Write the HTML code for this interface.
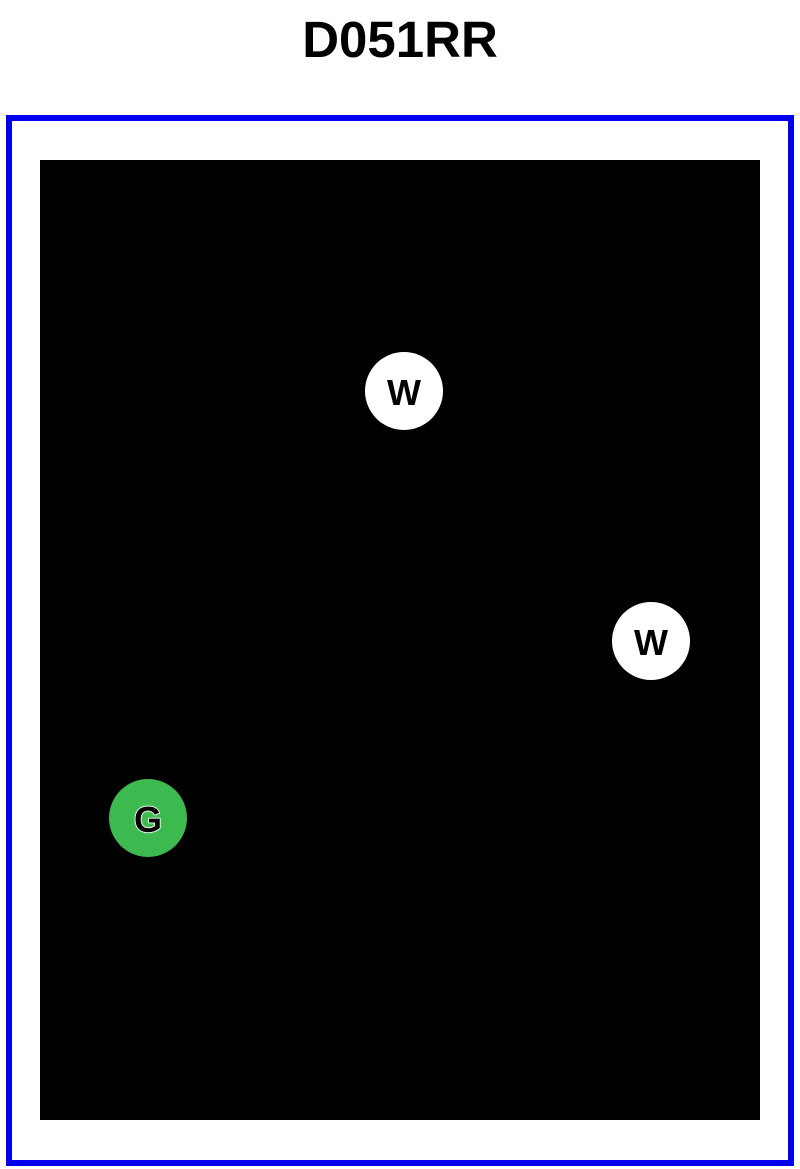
<!DOCTYPE html>
<html><head><style>
body{margin:0;width:800px;height:1169px;background:#fff;position:relative;font-family:"Liberation Sans",sans-serif;overflow:hidden}
.t{position:absolute;top:10px;left:0;width:800px;text-align:center;font-size:51px;font-weight:bold;color:#000}
.frame{position:absolute;left:6px;top:115px;width:776px;height:1039px;border:6px solid #0000ee}
.blk{position:absolute;left:40px;top:160px;width:720px;height:960px;background:#000}
.c{position:absolute;width:78px;height:78px;border-radius:50%;display:flex;align-items:center;justify-content:center;font-weight:bold;font-size:36px;padding-top:4px;box-sizing:border-box}
.w{background:#fff;color:#000}
.g{background:#3cb94f;color:#000;-webkit-text-stroke:1.5px #fff;paint-order:stroke fill;text-shadow:0 0 2px #fff}
</style></head><body>
<div class="t">D051RR</div>
<div class="frame"></div>
<div class="blk"></div>
<div class="c w" style="left:365px;top:352px">W</div>
<div class="c w" style="left:612px;top:602px">W</div>
<div class="c g" style="left:109px;top:779px">G</div>
</body></html>
